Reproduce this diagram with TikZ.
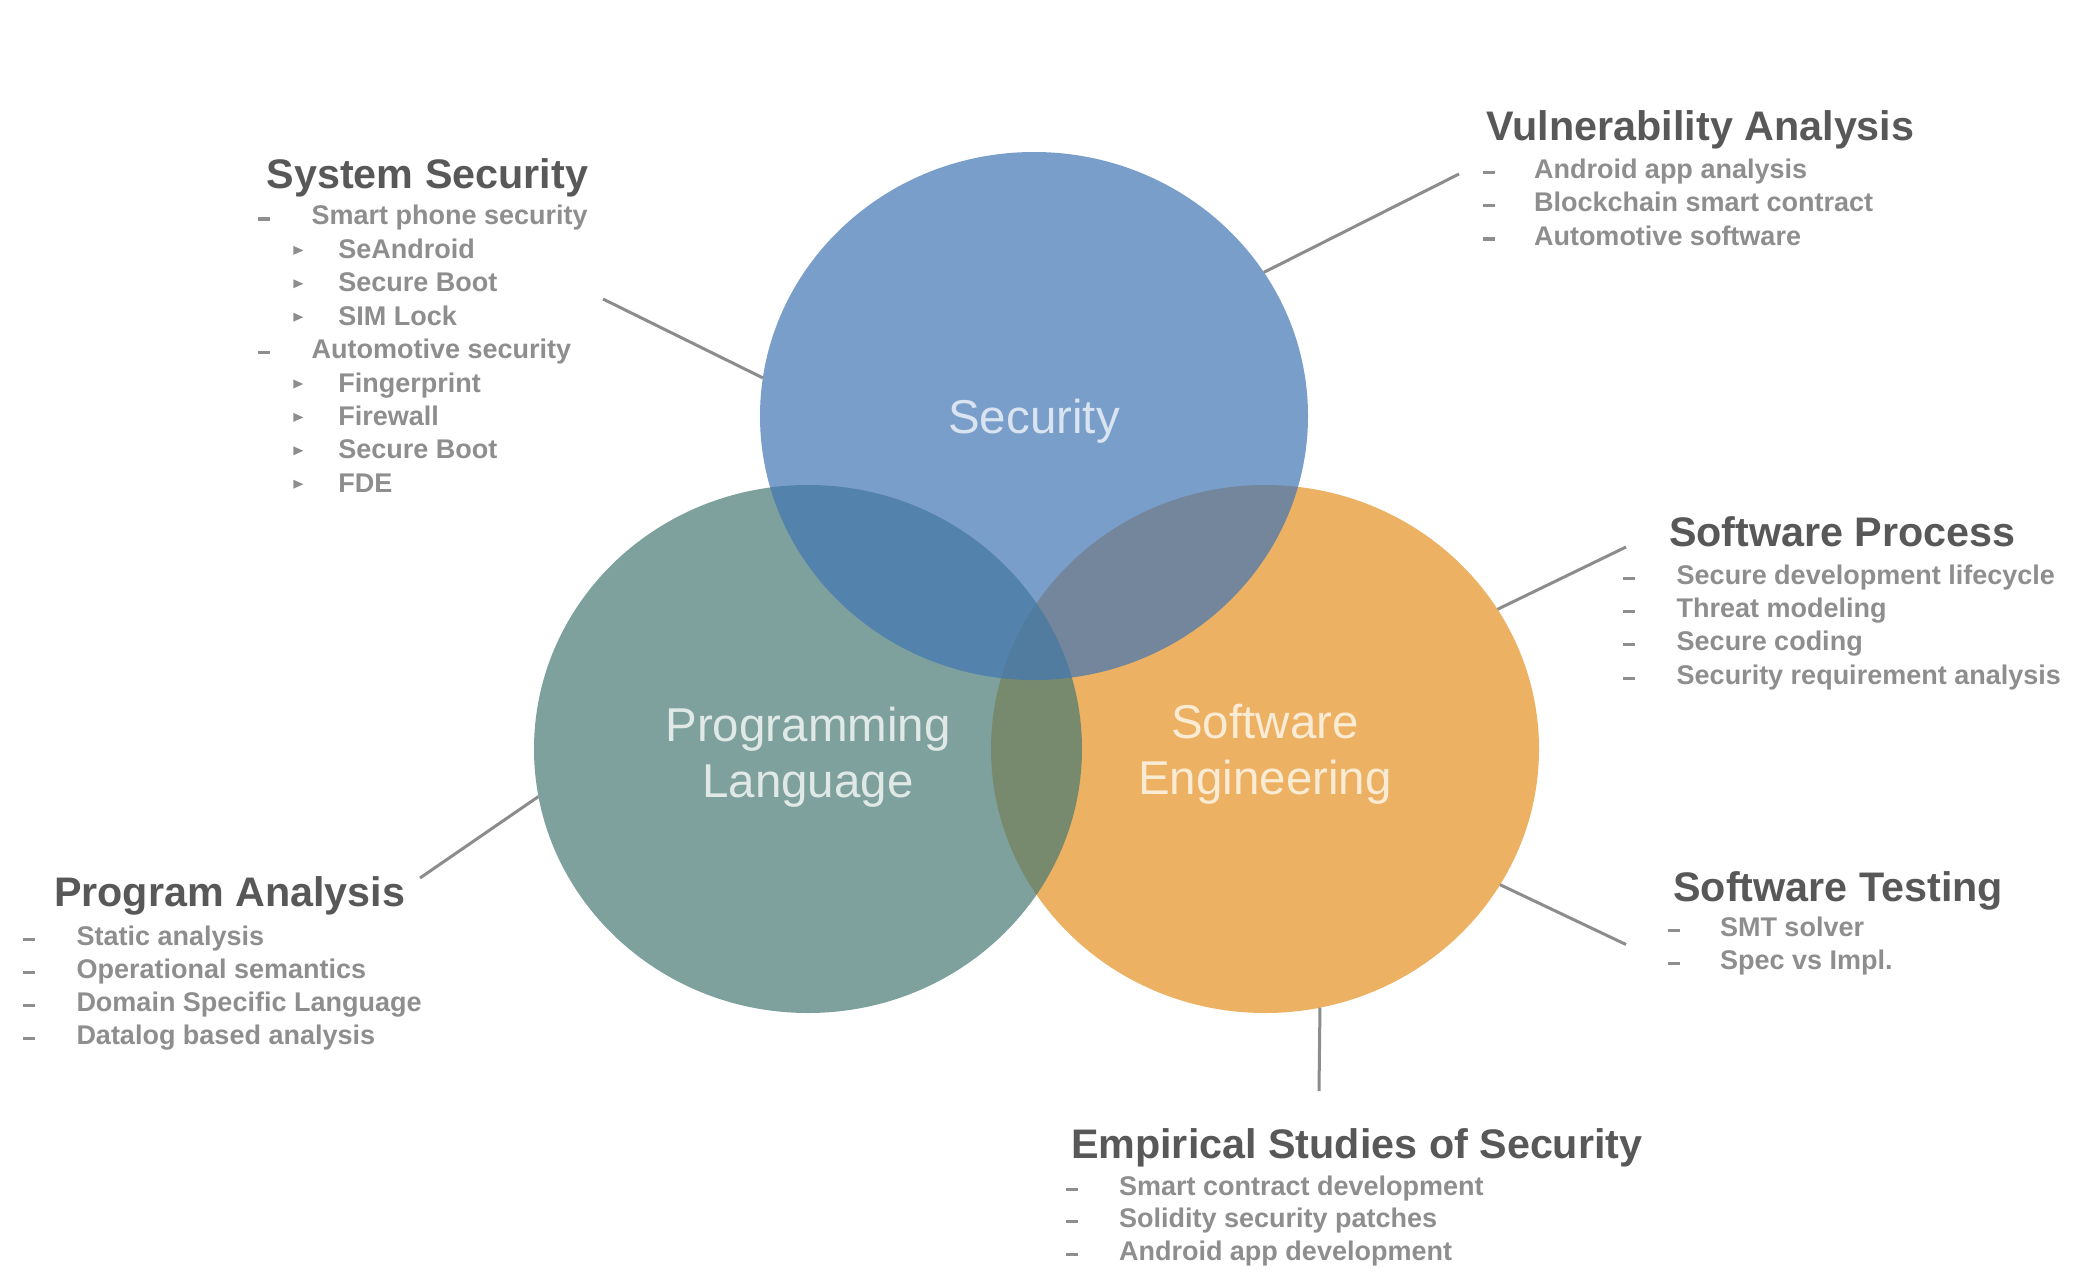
\documentclass[tikz,border=0pt]{standalone}
\usepackage{fontspec}
\setmainfont{Liberation Sans}
\usetikzlibrary{shapes.geometric}

\definecolor{secblue}{RGB}{65,117,180}
\definecolor{plgreen}{RGB}{72,122,116}
\definecolor{seorange}{RGB}{228,144,32}
\definecolor{ttlgray}{RGB}{88,88,88}
\definecolor{itmgray}{RGB}{142,142,142}
\definecolor{lnkgray}{RGB}{140,140,140}
\definecolor{seclabel}{RGB}{218,228,241}
\definecolor{pllabel}{RGB}{224,233,230}
\definecolor{selabel}{RGB}{250,235,212}

\newcommand\blkTitleFont{\fontsize{41.3}{47}\selectfont\bfseries}
\newcommand\blkItemFont{\fontsize{27}{32}\selectfont\bfseries}
\newcommand\vennFont{\fontsize{47.5}{56}\selectfont}

% small bullet marks: a flat dash and a right-pointing triangle, placed by baseline
\newcommand\dashat[2]{\fill[bar] (#1,#2-7.5) rectangle ++(12,3.2);}
\newcommand\triat[2]{\fill[bar] (#1,#2-12.5) -- ++(10,4.5) -- ++(-10,4.5) -- cycle;}

\tikzset{
  venn/.style={ellipse, minimum width=548pt, minimum height=528pt,
    inner sep=0pt, outer sep=0pt, fill opacity=0.7},
  vennlabel/.style={inner sep=0pt, align=center, font=\vennFont},
  blktitle/.style={anchor=base west, inner sep=0pt, outer sep=0pt,
    font=\blkTitleFont, text=ttlgray},
  blkitem/.style={anchor=base west, inner sep=0pt, outer sep=0pt,
    font=\blkItemFont, text=itmgray},
  link/.style={draw=lnkgray, line width=3pt},
  bar/.style={fill=itmgray},
}

\begin{document}
\begin{tikzpicture}[x=1pt, y=-1pt]
\fill[white] (0,0) rectangle (2083,1276);
\useasboundingbox (0,0) rectangle (2083,1276);

% the three overlapping areas
\node[venn, fill=seorange] (org) at (1265,749) {};
\node[venn, fill=plgreen] (pl) at (808,749) {};
\node[venn, fill=secblue] (sec) at (1034,416) {};
\node[vennlabel, text=selabel] (orglbl) at (1265,754) {Software\\Engineering};
\node[vennlabel, text=pllabel] (pllbl) at (808,757) {Programming\\Language};
\node[vennlabel, text=seclabel] (seclbl) at (1034,421) {Security};

% System Security
\node[blktitle] (ss) at (266.7,189) {System Security};
\node[blkitem] (ss1) at (311.7,225) {Smart phone security};   \dashat{258.3}{225}
\node[blkitem] (ss2) at (338.3,258.4) {SeAndroid};            \triat{293.3}{258.4}
\node[blkitem] (ss3) at (338.3,291.8) {Secure Boot};          \triat{293.3}{291.8}
\node[blkitem] (ss4) at (338.3,325.2) {SIM Lock};             \triat{293.3}{325.2}
\node[blkitem] (ss5) at (311.7,358.6) {Automotive security};  \dashat{258.3}{358.6}
\node[blkitem] (ss6) at (338.3,392) {Fingerprint};            \triat{293.3}{392}
\node[blkitem] (ss7) at (338.3,425.4) {Firewall};             \triat{293.3}{425.4}
\node[blkitem] (ss8) at (338.3,458.8) {Secure Boot};          \triat{293.3}{458.8}
\node[blkitem] (ss9) at (338.3,492.2) {FDE};                  \triat{293.3}{492.2}
\coordinate (ss-link) at (603,299);
\draw[link] (ss-link) -- (sec.172.2);

% Vulnerability Analysis
\node[blktitle] (va) at (1486.7,140.5) {Vulnerability Analysis};
\node[blkitem] (va1) at (1534,178.3) {Android app analysis};      \dashat{1482.7}{178.3}
\node[blkitem] (va2) at (1534,211.7) {Blockchain smart contract}; \dashat{1482.7}{211.7}
\node[blkitem] (va3) at (1534,245) {Automotive software};         \dashat{1482.7}{245}
\coordinate (va-link) at (1459,174);
\draw[link] (va-link) -- (sec.32.4);

% Software Process
\node[blktitle] (sp) at (1669,546.2) {Software Process};
\node[blkitem] (sp1) at (1676.7,584) {Secure development lifecycle};  \dashat{1623}{584}
\node[blkitem] (sp2) at (1676.7,617.3) {Threat modeling};             \dashat{1623}{617.3}
\node[blkitem] (sp3) at (1676.7,650.6) {Secure coding};               \dashat{1623}{650.6}
\node[blkitem] (sp4) at (1676.7,684) {Security requirement analysis}; \dashat{1623}{684}
\coordinate (sp-link) at (1626,547);
\draw[link] (sp-link) -- (org.31);

% Software Testing
\node[blktitle] (st) at (1673.3,901) {Software Testing};
\node[blkitem] (st1) at (1720,936.6) {SMT solver};     \dashat{1668}{936.6}
\node[blkitem] (st2) at (1720,969.6) {Spec vs Impl.};  \dashat{1668}{969.6}
\coordinate (st-link) at (1626,944.5);
\draw[link] (st-link) -- (org.-30);

% Program Analysis
\node[blktitle] (pa) at (54,906.5) {Program Analysis};
\node[blkitem] (pa1) at (76.5,945.7) {Static analysis};           \dashat{23.3}{945.7}
\node[blkitem] (pa2) at (76.5,978.5) {Operational semantics};     \dashat{23.3}{978.5}
\node[blkitem] (pa3) at (76.5,1011.3) {Domain Specific Language}; \dashat{23.3}{1011.3}
\node[blkitem] (pa4) at (76.5,1044) {Datalog based analysis};     \dashat{23.3}{1044}
\coordinate (pa-link) at (420,878);
\draw[link] (pa-link) -- (pl.190.2);

% Empirical Studies of Security
\node[blktitle] (es) at (1071,1158) {Empirical Studies of Security};
\node[blkitem] (es1) at (1119,1195) {Smart contract development};   \dashat{1066}{1195}
\node[blkitem] (es2) at (1119,1227.5) {Solidity security patches};  \dashat{1066}{1227.5}
\node[blkitem] (es3) at (1119,1260) {Android app development};      \dashat{1066}{1260}
\coordinate (es-link) at (1319,1091);
\draw[link] (es-link) -- (org.-78.2);

\end{tikzpicture}
\end{document}
